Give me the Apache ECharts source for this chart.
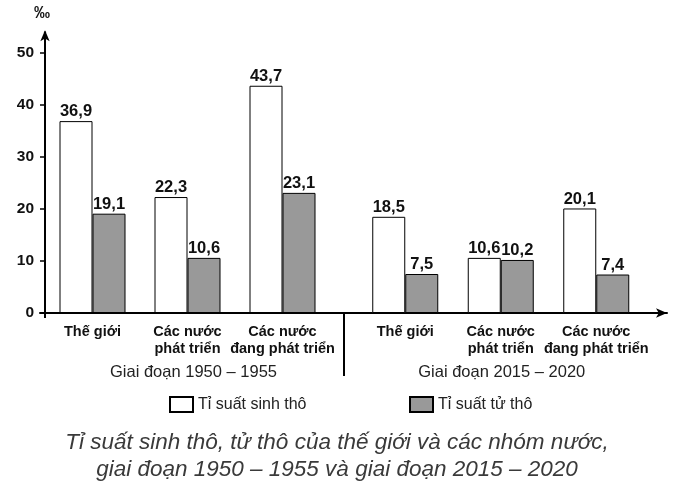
<!DOCTYPE html>
<html><head><meta charset="utf-8">
<script src="https://cdn.jsdelivr.net/npm/echarts@6/dist/echarts.min.js"></script>
<style>html,body{margin:0;padding:0;background:#fff}#c{width:674px;height:495px}</style>
</head><body><div id="c"></div>
<script>
var categories = ['Thế giới', 'Các nước\nphát triển', 'Các nước\nđang phát triển'];
var periods = ['Giai đoạn 1950 – 1955', 'Giai đoạn 2015 – 2020'];
var seriesNames = ['Tỉ suất sinh thô', 'Tỉ suất tử thô'];
var birth1950 = [36.9, 22.3, 43.7];
var death1950 = [19.1, 10.6, 23.1];
var birth2015 = [18.5, 10.6, 20.1];
var death2015 = [7.5, 10.2, 7.4];
var yTicks = [0, 10, 20, 30, 40, 50];
var unitLabel = '‰';
var captionLines = ['Tỉ suất sinh thô, tử thô của thế giới và các nhóm nước,', 'giai đoạn 1950 – 1955 và giai đoạn 2015 – 2020'];

var FONT = '"Liberation Sans", Arial, sans-serif';
var chart = echarts.init(document.getElementById('c'), null, {renderer: 'canvas'});
var top0 = 32.2, bottom0 = 182;
function fmt(p){ return String(p.value).replace('.', ','); }
var labelCfg = {show: true, position: 'top', distance: 1, formatter: fmt, fontFamily: FONT, fontWeight: 'bold', fontSize: 16.5, color: '#111'};
var whiteStyle = {color: '#ffffff', borderColor: '#000', borderWidth: 1};
var grayStyle = {color: '#999999', borderColor: '#000', borderWidth: 1};
function catAxis(idx, name, pad){
  return {type: 'category', gridIndex: idx, data: categories,
    axisLine: {show: false}, axisTick: {show: false},
    axisLabel: {fontFamily: FONT, fontWeight: 'bold', fontSize: 14.5, color: '#111', lineHeight: 17.5, margin: 10, interval: 0},
    name: name, nameLocation: 'middle', nameGap: 51,
    nameTextStyle: {fontFamily: FONT, fontSize: 16.5, color: '#222', padding: pad}};
}
function valAxis(idx, show){
  return {type: 'value', gridIndex: idx, min: 0, max: 54, show: show,
    axisLine: {show: show, symbol: ['none', 'arrow'], symbolSize: [7, 11], symbolOffset: [0, 2], lineStyle: {color: '#000', width: 2}},
    axisTick: {show: show, length: 5, lineStyle: {color: '#000', width: 1.5}, customValues: yTicks},
    axisLabel: {show: show, customValues: yTicks, fontFamily: FONT, fontWeight: 'bold', fontSize: 15.5, color: '#111', margin: 11},
    splitLine: {show: false}};
}
var option = {
  animation: false,
  backgroundColor: '#fff',
  grid: [
    {left: 45, width: 285, top: top0, bottom: bottom0},
    {left: 357.5, width: 286.5, top: top0, bottom: bottom0},
    {left: 40, right: 7, top: top0, bottom: bottom0}
  ],
  xAxis: [
    catAxis(0, periods[0], [0, 0, 0, 12]),
    catAxis(1, periods[1], [0, 0, 0, 2]),
    {type: 'value', gridIndex: 2, min: 0, max: 1,
      axisLine: {show: true, symbol: ['none', 'arrow'], symbolSize: [7, 11], lineStyle: {color: '#000', width: 2}},
      axisTick: {show: false}, axisLabel: {show: false}, splitLine: {show: false}}
  ],
  yAxis: [valAxis(0, true), valAxis(1, false), {type: 'value', gridIndex: 2, show: false}],
  legend: [
    {data: [seriesNames[0]], left: 164, top: 391, icon: 'rect', itemWidth: 23, itemHeight: 15, itemGap: 6,
      textStyle: {fontFamily: FONT, fontSize: 16, color: '#222'}},
    {data: [seriesNames[1]], left: 404, top: 391, icon: 'rect', itemWidth: 23, itemHeight: 15, itemGap: 6,
      textStyle: {fontFamily: FONT, fontSize: 16, color: '#222'}}
  ],
  series: [
    {name: seriesNames[0], type: 'bar', xAxisIndex: 0, yAxisIndex: 0, data: birth1950, barWidth: 33, barGap: '0%', itemStyle: whiteStyle, label: labelCfg},
    {name: seriesNames[1], type: 'bar', xAxisIndex: 0, yAxisIndex: 0, data: death1950, barWidth: 33, barGap: '0%', itemStyle: grayStyle, label: labelCfg},
    {name: seriesNames[0], type: 'bar', xAxisIndex: 1, yAxisIndex: 1, data: birth2015, barWidth: 33, barGap: '0%', itemStyle: whiteStyle, label: labelCfg},
    {name: seriesNames[1], type: 'bar', xAxisIndex: 1, yAxisIndex: 1, data: death2015, barWidth: 33, barGap: '0%', itemStyle: grayStyle, label: labelCfg}
  ],
  graphic: [
    {type: 'line', shape: {x1: 344, y1: 313, x2: 344, y2: 376}, style: {stroke: '#000', lineWidth: 2}},
    {type: 'line', shape: {x1: 45, y1: 313, x2: 45, y2: 318}, style: {stroke: '#000', lineWidth: 2}},
    {type: 'text', left: 34, top: 6, style: {text: unitLabel, fontFamily: FONT, fontWeight: 'bold', fontSize: 16, fill: '#111'}},
    {type: 'text', left: 'center', top: 429, style: {text: captionLines.join('\n'), textAlign: 'center', fontFamily: FONT, fontStyle: 'italic', fontSize: 22.5, lineHeight: 27, fill: '#3a3a3a'}}
  ]
};
chart.setOption(option);
</script></body></html>
